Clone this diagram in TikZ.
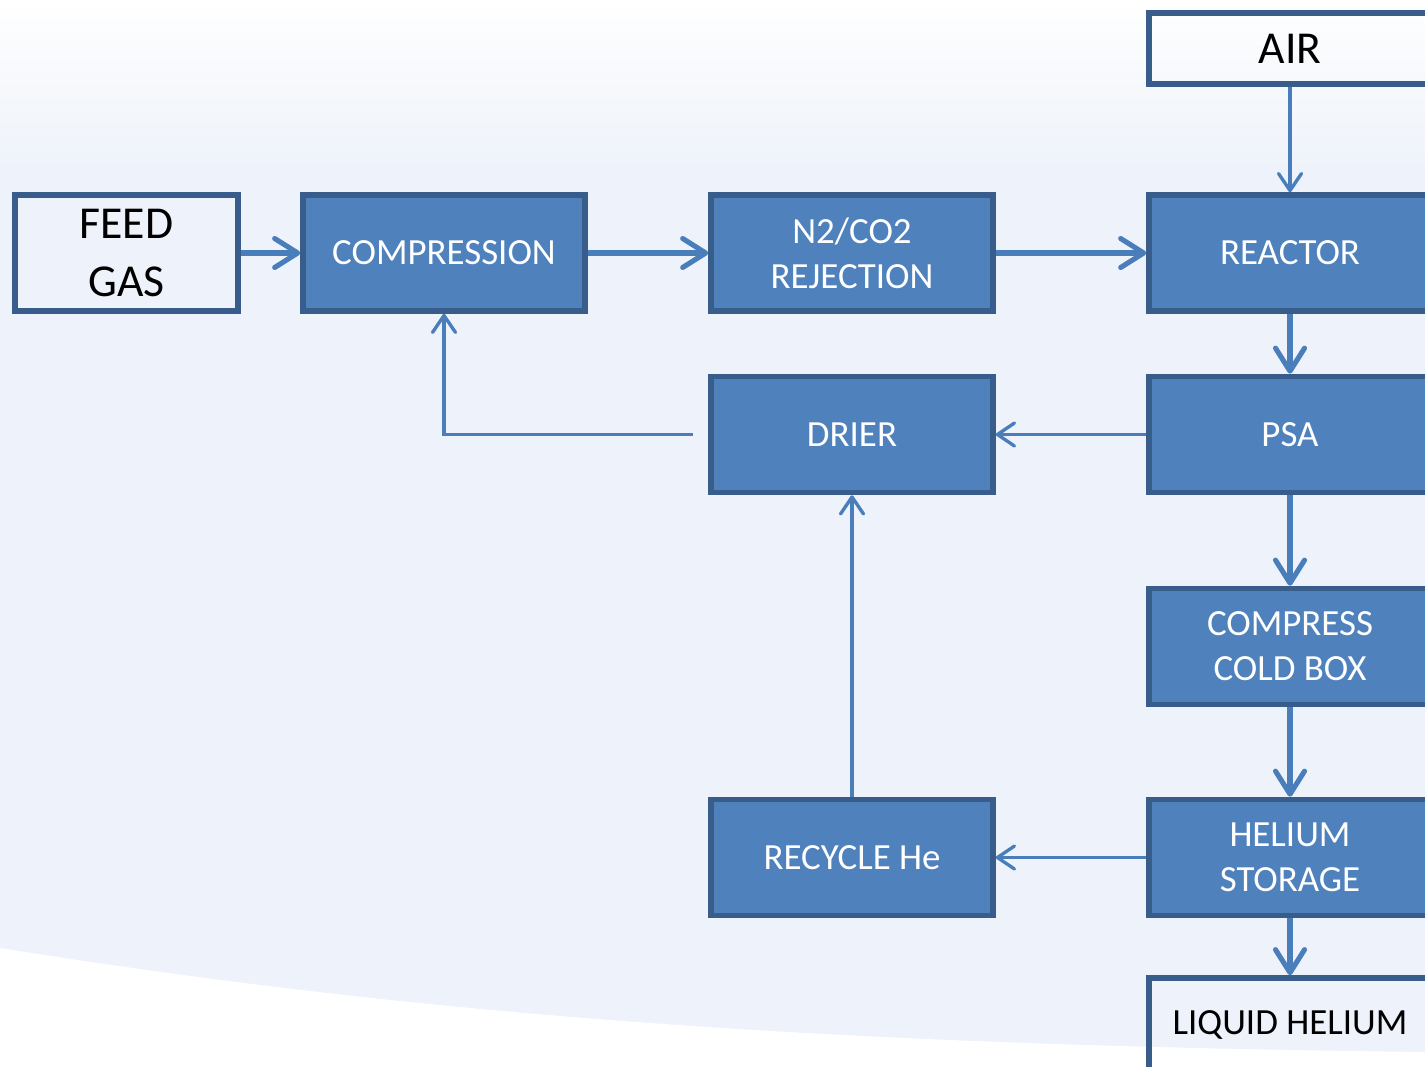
\documentclass[tikz,border=0pt]{standalone}
\usepackage{fontspec}
\setmainfont{Carlito}
\usepackage{tikz}
\usetikzlibrary{arrows.meta}
\definecolor{bgblue}{HTML}{EEF2FA}
\definecolor{boxfill}{HTML}{4F81BD}
\definecolor{boxline}{HTML}{385D8A}
\definecolor{flowcolor}{HTML}{4A7EBB}
\newcommand{\thickflow}{2.9pt}
\newcommand{\thinflow}{1.9pt}

\begin{document}
\begin{tikzpicture}[x=0.02cm, y=-0.02cm,
  unit/.style={draw=boxline, line width=3.2pt, fill=boxfill, text=white,
    minimum width=5.64cm, minimum height=2.32cm, align=center,
    font=\fontsize{21}{25.5}\selectfont, inner sep=0pt},
  plainunit/.style={unit, fill=none, text=black},
  mainflow/.style={draw=flowcolor, line width=\thickflow,
    -{Straight Barb[length=4.6mm, width=5.8mm, round]}},
  sideflow/.style={draw=flowcolor, line width=\thinflow,
    -{Straight Barb[length=3.4mm, width=4.6mm, round]}}]
\useasboundingbox (0,0) rectangle (1425,1067);
%background
\fill[bgblue] (0,0) rectangle (1425,1067);
\shade[top color=white, bottom color=bgblue] (0,0) rectangle (1425,170);
\fill[white] (0,948) .. controls (420,1015) and (820,1045) .. (1425,1052) -- (1425,1067) -- (0,1067) -- cycle;
%boxes
\node[plainunit, minimum width=4.46cm, font=\fontsize{26}{32.5}\selectfont] (feed) at (126.5,253) {FEED\\GAS};
\node[unit] (compression) at (444,253) {COMPRESSION};
\node[unit] (rejection) at (852,253) {N2/CO2\\REJECTION};
\node[unit] (reactor) at (1290,253) {REACTOR};
\node[plainunit, minimum height=1.42cm, font=\fontsize{26}{32.5}\selectfont] (air) at (1290,48.5) {AIR};
\node[unit] (drier) at (852,434.5) {DRIER};
\node[unit] (psa) at (1290,434.5) {PSA};
\node[unit] (coldbox) at (1290,646.5) {COMPRESS\\COLD BOX};
\node[unit] (storage) at (1290,857.5) {HELIUM\\STORAGE};
\node[unit] (recycle) at (852,857.5) {RECYCLE He};
\node[plainunit, minimum height=1.88cm] (liquid) at (1290,1025) {LIQUID HELIUM};
%main flow
\draw[mainflow] (feed) -- (compression);
\draw[mainflow] (compression) -- (rejection);
\draw[mainflow] (rejection) -- (reactor);
\draw[mainflow] (reactor) -- (psa);
\draw[mainflow] (psa) -- (coldbox);
\draw[mainflow] (coldbox) -- (storage);
\draw[mainflow] (storage) -- (liquid);
%side flow
\draw[sideflow] (air) -- (reactor);
\draw[sideflow] (psa) -- (drier);
\draw[sideflow] (storage) -- (recycle);
\draw[sideflow] (recycle) -- (drier);
\draw[sideflow, shorten <=15*0.02cm] (drier.west) -| (compression.south);
\end{tikzpicture}
\end{document}
